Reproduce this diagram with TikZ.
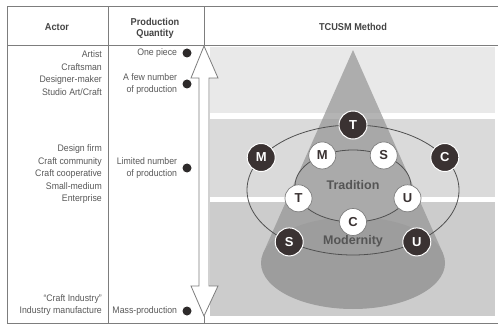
\documentclass[tikz,border=0pt]{standalone}
\usepackage{fontspec}
\setmainfont{Liberation Sans}[FakeStretch=0.92]
\newfontfamily\markfont{Liberation Sans}
\usetikzlibrary{positioning}

\definecolor{txtgray}{RGB}{88,88,88}
\definecolor{headgray}{RGB}{68,68,68}
\definecolor{rulegray}{RGB}{125,125,125}
\definecolor{dotblack}{RGB}{45,42,42}
\definecolor{darkc}{RGB}{58,50,50}
\definecolor{bandA}{RGB}{233,233,233}
\definecolor{bandB}{RGB}{218,218,218}
\definecolor{bandC}{RGB}{204,204,204}
\definecolor{conegray}{RGB}{148,148,148}
\definecolor{modgray}{RGB}{157,157,157}
\definecolor{tradgray}{RGB}{170,170,170}
\definecolor{ringline}{RGB}{80,80,80}
\definecolor{labgray}{RGB}{85,85,85}

\begin{document}
\begin{tikzpicture}[x=1pt, y=-1pt, font=\fontsize{9.5}{12.5}\selectfont, text=txtgray]
		\tikzstyle{rule}=[draw=rulegray, line width=1pt]
		\tikzstyle{head}=[font=\fontsize{10}{11}\selectfont\bfseries, text=headgray, align=center]
		\tikzstyle{actor}=[anchor=east, align=right, inner sep=0pt]
		\tikzstyle{dot}=[circle, fill=dotblack, minimum size=9pt, inner sep=0pt]
		\tikzstyle{qty}=[align=right, inner sep=0pt]
		\tikzstyle{outer}=[circle, fill=darkc, draw=white, line width=1pt, minimum size=28pt, inner sep=0pt, text=white, font=\markfont\fontsize{13}{13}\selectfont\bfseries]
		\tikzstyle{inner}=[circle, fill=white, draw=rulegray, line width=0.7pt, minimum size=27pt, inner sep=0pt, text=darkc, font=\markfont\fontsize{13}{13}\selectfont\bfseries]
		\tikzstyle{annot}=[text=labgray, font=\markfont\fontsize{12.5}{13}\selectfont\bfseries]
		
		\useasboundingbox (0,0) rectangle (498,326);
		
		% gray bands of the method panel
		\fill[bandA] (210,47) rectangle (495,113);
		\fill[bandB] (210,119) rectangle (495,197);
		\fill[bandC] (210,202) rectangle (495,316);
		
		\coordinate (apex) at (353,50);
		\coordinate (base) at (353,263);
		\coordinate (oc) at (353,190);
		\coordinate (ic) at (353,186);
		
		\fill[conegray, fill opacity=0.7] (apex) -- ([shift={(168:92pt and 46pt)}]base) -- ([shift={(12:92pt and 46pt)}]base) -- cycle;
		\fill[modgray] (base) ellipse [x radius=92pt, y radius=46pt];
		\draw[ringline, line width=0.8pt] (oc) ellipse [x radius=106pt, y radius=65pt];
		\filldraw[fill=tradgray, draw=ringline, line width=0.8pt] (ic) ellipse [x radius=58pt, y radius=36pt];
		
		\node[annot] (trad) at (353,185) {Tradition};
		\node[annot] (mod) at (353,241) {Modernity};
		
		\node[outer] (oT) at ([shift={(90:106pt and 65pt)}]oc) {T};
		\node[outer] (oM) at ([shift={(150:106pt and 65pt)}]oc) {M};
		\node[outer] (oC) at ([shift={(30:106pt and 65pt)}]oc) {C};
		\node[outer] (oS) at ([shift={(233:106pt and 65pt)}]oc) {S};
		\node[outer] (oU) at ([shift={(307:106pt and 65pt)}]oc) {U};
		
		\node[inner] (iM) at ([shift={(122:58pt and 36pt)}]ic) {M};
		\node[inner] (iS) at ([shift={(58:58pt and 36pt)}]ic) {S};
		\node[inner] (iT) at ([shift={(200:58pt and 36pt)}]ic) {T};
		\node[inner] (iU) at ([shift={(340:58pt and 36pt)}]ic) {U};
		\node[inner] (iC) at ([shift={(270:58pt and 36pt)}]ic) {C};
		
		% table
		\draw[rule] (7,7) -- (498,7);
		\draw[rule] (7,46) -- (498,46);
		\draw[rule] (7,323) -- (498,323);
		\draw[rule] (7,7) -- (7,323);
		\draw[rule] (108,7) -- (108,323);
		\draw[rule] (204,7) -- (204,46);
		
		\node[head] (hA) at (57,27) {Actor};
		\node[head] (hQ) at (155,28) {Production\\Quantity};
		\node[head] (hM) at (353,27) {TCUSM Method};
		
		% quantity arrow
		\coordinate (up) at (204,46);
		\coordinate (dn) at (204,316);
		\filldraw[fill=white, draw=rulegray, line width=0.8pt] (up) -- (218,78) -- (209,78) -- (209,286) -- (218,286) -- (dn) -- (191,286) -- (199,286) -- (199,78) -- (191,78) -- cycle;
		\draw[rule] (dn) -- (204,323);
		
		\node[actor] (a1) at (102,73) {Artist\\Craftsman\\Designer-maker\\Studio Art/Craft};
		\node[actor] (a2) at (102,174.5) {Design firm\\Craft community\\Craft cooperative\\Small-medium\\Enterprise};
		\node[actor] (a3) at (102,305) {``Craft Industry''\\Industry manufacture};
		
		\node[dot] (q1) at (187,53) {};
		\node[dot] (q2) at (187,84) {};
		\node[dot] (q3) at (187,168) {};
		\node[dot] (q4) at (187,311) {};
		\node[qty, left = 5pt of q1] {One piece};
		\node[qty, left = 5pt of q2] {A few number\\of production};
		\node[qty, left = 5pt of q3] {Limited number\\of production};
		\node[qty, left = 5pt of q4] {Mass-production};
	\end{tikzpicture}
\end{document}
